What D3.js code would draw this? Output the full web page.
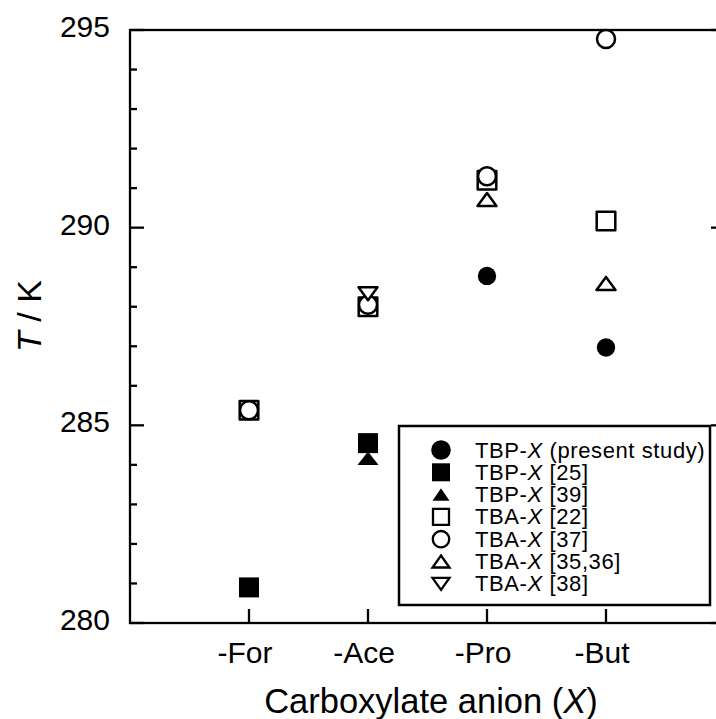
<!DOCTYPE html>
<html>
<head>
<meta charset="utf-8">
<script src="https://cdn.jsdelivr.net/npm/d3@7/dist/d3.min.js"></script>
<style>
  html, body { margin: 0; padding: 0; background: #fff; }
  svg { display: block; font-family: "Liberation Sans", Arial, Helvetica, sans-serif; }
</style>
</head>
<body>
<svg id="chart" width="716" height="719"></svg>
<script>
// ---- data ----
const categories = ["-For", "-Ace", "-Pro", "-But"];
const yTicks = [280, 285, 290, 295];
const tbpPresent = [null, null, 288.78, 286.97];   // filled circle
const tbp25      = [280.9, 284.55, null, null];    // filled square
const tbp39      = [null, 284.17, null, null];     // filled triangle
const tba22      = [285.38, 288.0, 291.2, 290.17]; // open square
const tba37      = [285.38, 288.05, 291.3, 294.77];// open circle
const tba3536    = [null, null, 290.71, 288.59];   // open triangle
const tba38      = [null, 288.33, null, null];     // open down triangle
const seriesNames = [
  ["TBP-", "X", " (present study)"],
  ["TBP-", "X", " [25]"],
  ["TBP-", "X", " [39]"],
  ["TBA-", "X", " [22]"],
  ["TBA-", "X", " [37]"],
  ["TBA-", "X", " [35,36]"],
  ["TBA-", "X", " [38]"]
];

// ---- layout ----
const svg = d3.select("#chart");
const mLeft = 130, mRight = 725, mTop = 30, mBottom = 623;
const x = d3.scaleLinear().domain([0, 5]).range([mLeft, mRight]);
const y = d3.scaleLinear().domain([280, 295]).range([mBottom, mTop]);

// symbol paths
function shapePath(kind, s) {
  const p = d3.path();
  if (kind === "circle") {
    p.arc(0, 0, s.r, 0, 2 * Math.PI);
  } else if (kind === "square") {
    p.rect(-s.h, -s.h, 2 * s.h, 2 * s.h);
  } else if (kind === "up") {
    p.moveTo(0, -s.th / 2); p.lineTo(s.tw / 2, s.th / 2); p.lineTo(-s.tw / 2, s.th / 2); p.closePath();
  } else if (kind === "down") {
    p.moveTo(0, s.th / 2); p.lineTo(s.tw / 2, -s.th / 2); p.lineTo(-s.tw / 2, -s.th / 2); p.closePath();
  }
  return p.toString();
}
const series = [
  { vals: tbpPresent, kind: "circle", filled: true },
  { vals: tbp25,      kind: "square", filled: true },
  { vals: tbp39,      kind: "up",     filled: true },
  { vals: tba22,      kind: "square", filled: false },
  { vals: tba37,      kind: "circle", filled: false },
  { vals: tba3536,    kind: "up",     filled: false },
  { vals: tba38,      kind: "down",   filled: false }
];
const dataSize = { r: 9, h: 9.3, tw: 19, th: 13 };
const dataSizeFilled = { r: 9.2, h: 10, tw: 21, th: 13.5 };
const legSize = { r: 8.2, h: 8, tw: 17, th: 12 };
const legSizeFilled = { r: 9.8, h: 9, tw: 17, th: 12.5 };

// ---- axes frame ----
const axisG = svg.append("g");
axisG.append("rect")
  .attr("x", mLeft).attr("y", mTop)
  .attr("width", mRight - mLeft).attr("height", mBottom - mTop)
  .attr("fill", "none").attr("stroke", "#000").attr("stroke-width", 2.3);

// y ticks (left and right)
const yMinor = d3.range(280, 295.01, 1);
yMinor.forEach(v => {
  const major = yTicks.includes(v);
  const len = major ? 14 : 7;
  axisG.append("line").attr("x1", mLeft).attr("x2", mLeft + len)
    .attr("y1", y(v)).attr("y2", y(v)).attr("stroke", "#000").attr("stroke-width", 2.3);
  axisG.append("line").attr("x1", mRight).attr("x2", mRight - len)
    .attr("y1", y(v)).attr("y2", y(v)).attr("stroke", "#000").attr("stroke-width", 2.3);
});
yTicks.forEach(v => {
  axisG.append("text").attr("x", 110).attr("y", y(v) + 7)
    .attr("text-anchor", "end").attr("font-size", 30).text(v);
});

// x ticks
categories.forEach((c, i) => {
  const xv = x(i + 1);
  axisG.append("line").attr("x1", xv).attr("x2", xv)
    .attr("y1", mBottom).attr("y2", mBottom - 14).attr("stroke", "#000").attr("stroke-width", 2.3);
  axisG.append("text").attr("x", xv - 4).attr("y", 663)
    .attr("text-anchor", "middle").attr("font-size", 30).text(c);
});

// axis titles
const xt = svg.append("text").attr("x", 431).attr("y", 713)
  .attr("text-anchor", "middle").attr("font-size", 34.5);
xt.append("tspan").text("Carboxylate anion (");
xt.append("tspan").attr("font-style", "italic").text("X");
xt.append("tspan").text(")");

const yt = svg.append("text")
  .attr("transform", "translate(41,316) rotate(-90)")
  .attr("text-anchor", "middle").attr("font-size", 34);
yt.append("tspan").attr("font-style", "italic").text("T");
yt.append("tspan").text(" / K");

// ---- data points ----
const pts = svg.append("g");
series.forEach(s => {
  s.vals.forEach((v, i) => {
    if (v === null) return;
    const sz = s.filled ? dataSizeFilled : dataSize;
    pts.append("path")
      .attr("d", shapePath(s.kind, sz))
      .attr("transform", `translate(${x(i + 1)},${y(v)})`)
      .attr("fill", s.filled ? "#000" : "#fff")
      .attr("stroke", "#000")
      .attr("stroke-width", s.filled ? 0 : 2.5)
      .attr("stroke-linejoin", "round");
  });
});

// ---- legend ----
const lg = svg.append("g");
lg.append("rect").attr("x", 399).attr("y", 426).attr("width", 311).attr("height", 179)
  .attr("fill", "#fff").attr("stroke", "#000").attr("stroke-width", 2.5);
series.forEach((s, k) => {
  const cy = 450 + k * 22.3;
  const sz = s.filled ? legSizeFilled : legSize;
  lg.append("path")
    .attr("d", shapePath(s.kind, sz))
    .attr("transform", `translate(441,${cy})`)
    .attr("fill", s.filled ? "#000" : "#fff")
    .attr("stroke", "#000")
    .attr("stroke-width", s.filled ? 0 : 2.3);
  const t = lg.append("text").attr("x", 475).attr("y", cy + 7.5)
    .attr("font-size", 22).attr("letter-spacing", 0.6);
  t.append("tspan").text(seriesNames[k][0]);
  t.append("tspan").attr("font-style", "italic").text(seriesNames[k][1]);
  t.append("tspan").text(seriesNames[k][2]);
});
</script>
</body>
</html>
